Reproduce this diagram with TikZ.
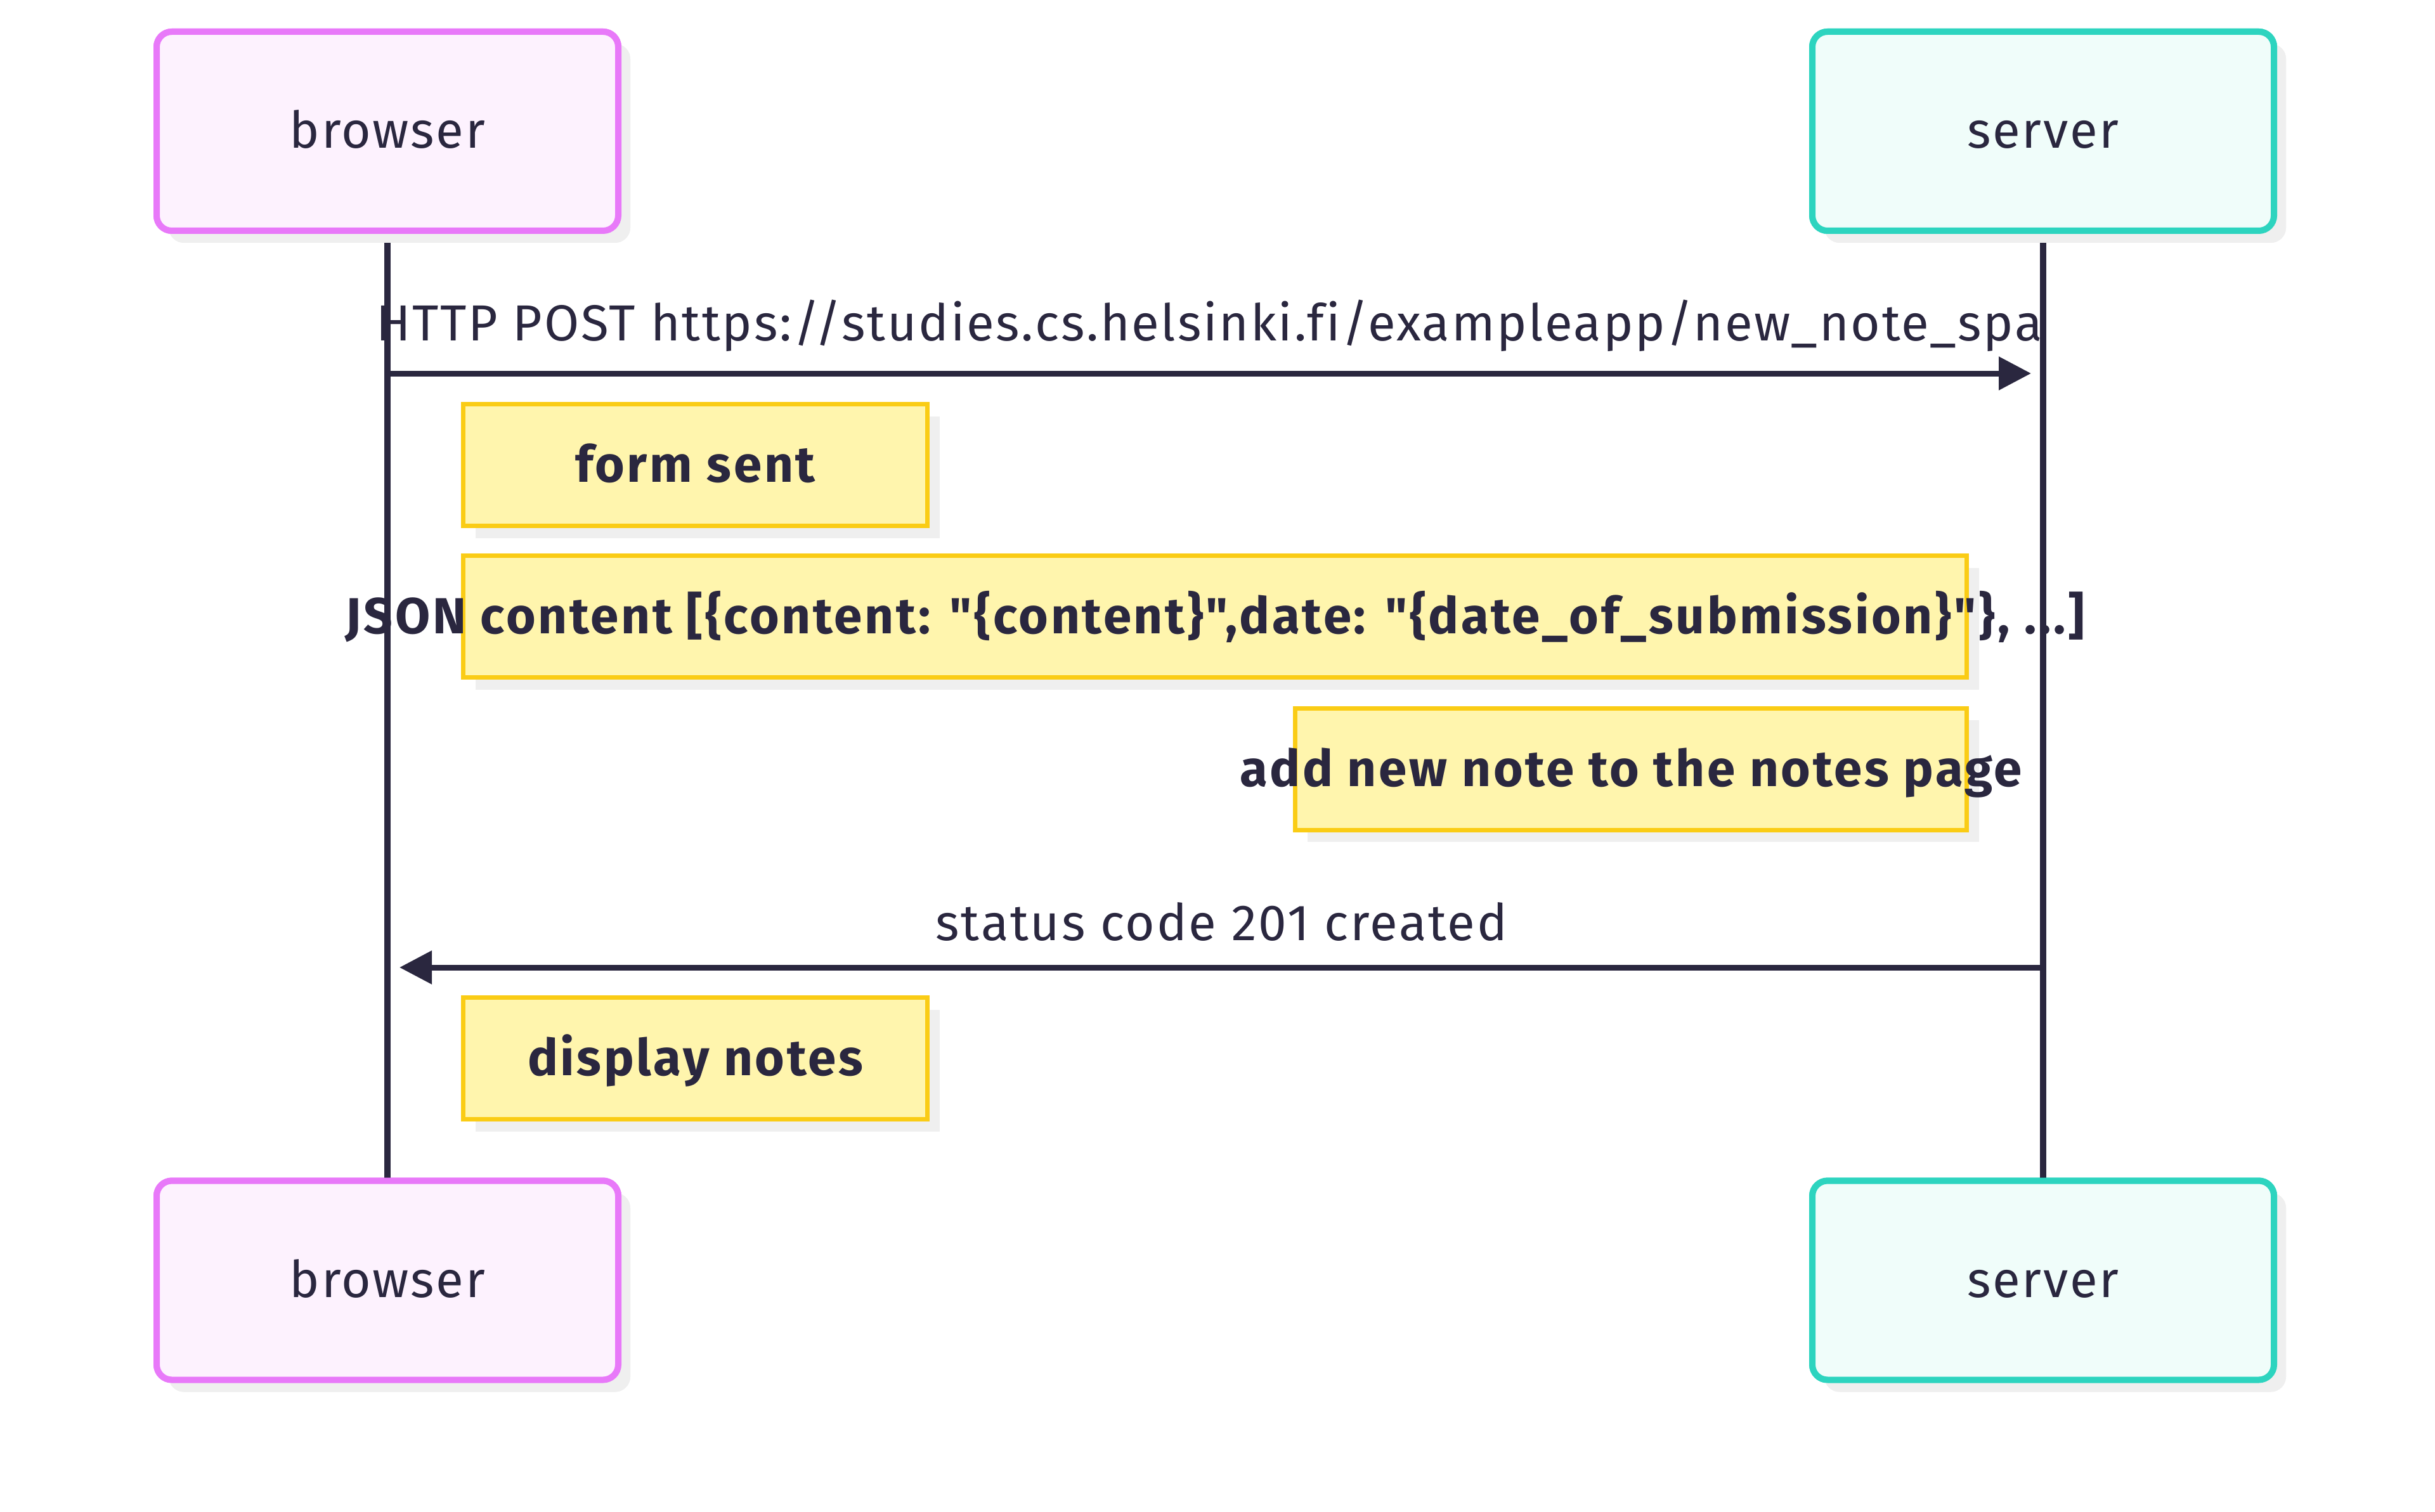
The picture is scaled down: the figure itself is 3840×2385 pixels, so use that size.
\documentclass[tikz,border=0pt]{standalone}
\usepackage{fontspec}
\setmainfont{Fira Sans}[Ligatures={TeXOff, CommonOff}, LetterSpace=3.4, BoldFeatures={LetterSpace=4.6}]
\usetikzlibrary{arrows.meta, positioning, shadows}
\definecolor{ink}{HTML}{2A273F}
\definecolor{browserline}{HTML}{E879F9}
\definecolor{browserfill}{HTML}{FDF2FE}
\definecolor{serverline}{HTML}{2DD4BF}
\definecolor{serverfill}{HTML}{F0FDFA}
\definecolor{noteline}{HTML}{FACC15}
\definecolor{notefill}{HTML}{FFF5AD}
\definecolor{shadowgrey}{HTML}{EFEFEF}
\tikzset{
    softshadow/.style={drop shadow={shadow xshift=4.75pt, shadow yshift=-4.75pt, fill=shadowgrey, opacity=1}},
    actor/.style={rectangle, draw, line width=2.5pt, rounded corners=6pt, minimum width=182pt, minimum height=78.5pt, inner sep=0pt, text=ink, text height=17pt, text depth=3.5pt, softshadow},
    browserbox/.style={actor, draw=browserline, fill=browserfill},
    serverbox/.style={actor, draw=serverline, fill=serverfill},
    note/.style={rectangle, draw=noteline, fill=notefill, line width=1.75pt, minimum height=48pt, inner sep=0pt, font=\fontsize{20pt}{24pt}\selectfont\bfseries, text=ink, text height=17pt, text depth=3.5pt, softshadow},
    lifeline/.style={draw=ink, line width=2.5pt},
    msg/.style={draw=ink, line width=2.25pt, -{Triangle[length=12.75pt, width=12.75pt]}},
    msglabel/.style={anchor=base, text=ink, inner sep=0pt}
}

\begin{document}
\begin{tikzpicture}[x=0.25pt, y=-0.25pt, font=\fontsize{20pt}{24pt}\selectfont]
    \useasboundingbox (0,0) rectangle (3840,2385);

    % actors
    \node[browserbox] (btop) at (611,207) {browser};
    \node[serverbox, right=468.25pt of btop] (stop) {server};
    \node[browserbox] (bbot) at (611,2019.5) {browser};
    \node[serverbox, right=468.25pt of bbot] (sbot) {server};

    \path[lifeline] (btop.south) -- (bbot.north);
    \path[lifeline] (stop.south) -- (sbot.north);
    % redraw boxes over the lifeline ends
    \node[browserbox] at (btop) {browser};
    \node[serverbox] at (stop) {server};
    \node[browserbox] at (bbot) {browser};
    \node[serverbox] at (sbot) {server};

    % messages
    \coordinate (post1) at (611,589);
    \coordinate (post2) at (3203,589);
    \coordinate (resp1) at (3223,1526);
    \coordinate (resp2) at (630,1526);

    \path[msg] (post1) -- (post2) node[midway, msglabel, yshift=12.75pt] {HTTP POST https://studies.cs.helsinki.fi/exampleapp/new\_note\_spa};

    % notes
    \node[note, minimum width=183pt] (sent) at (1096.5,733.5) {form sent};
    \node[note, minimum width=592.75pt] (json) at (1916,972.5) {\makebox[0pt]{JSON content [\{content: "\{content\}",date: "\{date\_of\_submission\}"\}, ...]}};
    \node[note, minimum width=264.75pt] (addnote) at (2572,1213) {\makebox[0pt]{add new note to the notes page}};

    \path[msg] (resp1) -- (resp2) node[midway, msglabel, yshift=10.75pt] {status code 201 created};

    \node[note, minimum width=183pt] (display) at (1096.5,1669.5) {display notes};
\end{tikzpicture}
\end{document}
